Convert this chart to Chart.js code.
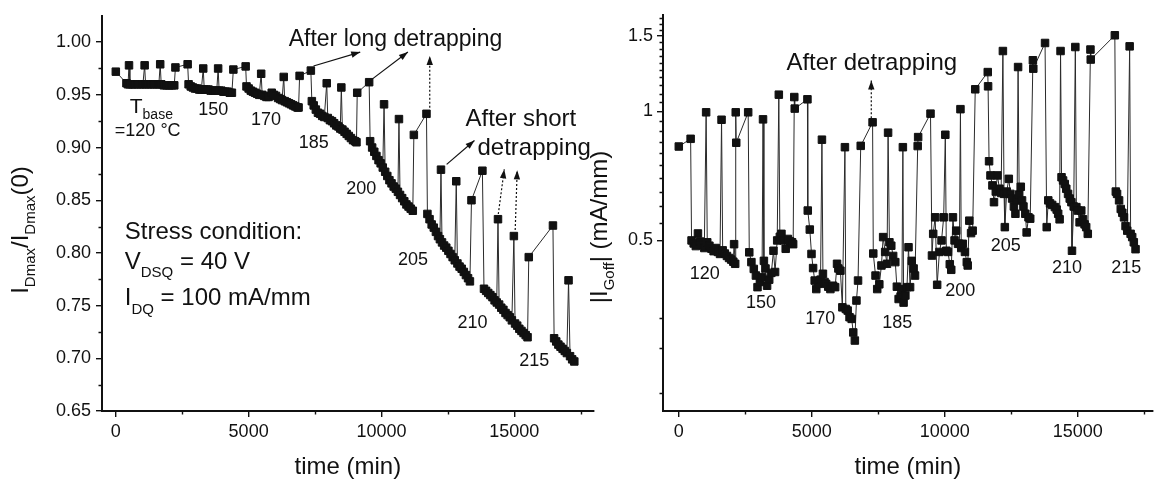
<!DOCTYPE html>
<html>
<head>
<meta charset="utf-8">
<script src="https://cdn.jsdelivr.net/npm/chart.js@4.4.1/dist/chart.umd.min.js"></script>
<style>
  html, body { margin: 0; padding: 0; background: #fff; }
  #wrap { position: relative; width: 1159px; height: 485px; overflow: hidden; }
  #left { position: absolute; left: 0; top: 0; }
  #right { position: absolute; left: 560px; top: 0; }
</style>
</head>
<body>
<div id="wrap">
  <canvas id="left" width="600" height="485"></canvas>
  <canvas id="right" width="599" height="485"></canvas>
</div>
<script>
// time axis ticks shared by both panels (min)
const timeTicks = [0, 2500, 5000, 7500, 10000, 12500, 15000, 17500];
const leftYTicks = [0.65, 0.675, 0.7, 0.725, 0.75, 0.775, 0.8, 0.825, 0.85, 0.875, 0.9, 0.925, 0.95, 0.975, 1.0];
const rightYTicks = [0.22, 0.28, 0.33, 0.5, 0.55, 0.6, 0.65, 0.7, 0.75, 0.8, 0.85, 0.9, 0.95, 1, 1.05, 1.1,
  1.15, 1.2, 1.25, 1.3, 1.35, 1.4, 1.45, 1.5, 1.55, 1.6, 1.65];
const rightYLabels = { 0.5: '0.5', 1: '1', 1.5: '1.5' };

// left panel: I_Dmax / I_Dmax(0), one array per base temperature, [time, value]
const idmax120 = [[0,0.972],[400,0.961],[460,0.960],[497,0.978],[530,0.960],[620,0.960],[720,0.960],[820,0.960],
  [920,0.960],[1020,0.960],[1085,0.978],[1120,0.960],[1220,0.960],[1320,0.960],[1420,0.960],[1520,0.960],
  [1620,0.960],[1671,0.979],[1710,0.960],[1810,0.959],[1910,0.959],[2010,0.959],[2110,0.959],[2200,0.959],[2244,0.976]];
const idmax150 = [[2704,0.979],[2740,0.960],[2820,0.958],[2900,0.957],[2980,0.956],[3060,0.956],[3140,0.955],
  [3220,0.955],[3291,0.975],[3330,0.955],[3410,0.955],[3490,0.955],[3570,0.954],[3650,0.954],[3730,0.954],
  [3800,0.954],[3852,0.975],[3890,0.954],[3970,0.954],[4050,0.953],[4130,0.953],[4210,0.953],[4290,0.952],
  [4370,0.952],[4425,0.974]];
const idmax170 = [[4888,0.977],[4920,0.958],[5000,0.956],[5080,0.954],[5160,0.953],[5240,0.952],[5320,0.951],
  [5400,0.950],[5472,0.970],[5510,0.950],[5590,0.949],[5670,0.948],[5750,0.948],[5870,0.952],[5950,0.950],
  [6030,0.949],[6110,0.947],[6190,0.946],[6260,0.945],[6321,0.967],[6360,0.944],[6440,0.943],[6520,0.942],
  [6600,0.941],[6680,0.940],[6760,0.939],[6840,0.938],[6880,0.938],[6919,0.968]];
const idmax185 = [[7342,0.973],[7380,0.944],[7450,0.940],[7530,0.936],[7610,0.933],[7690,0.932],[7770,0.930],
  [7850,0.929],[7940,0.961],[7980,0.928],[8060,0.926],[8140,0.925],[8220,0.923],[8300,0.921],[8380,0.920],
  [8450,0.918],[8490,0.957],[8530,0.917],[8610,0.915],[8690,0.913],[8770,0.911],[8850,0.909],[8930,0.907],
  [9010,0.906],[9060,0.905],[9088,0.952]];
const idmax200 = [[9537,0.962],[9574,0.906],[9650,0.900],[9730,0.896],[9810,0.892],[9890,0.888],[9970,0.885],
  [10050,0.881],[10098,0.941],[10140,0.877],[10220,0.873],[10300,0.869],[10380,0.866],[10460,0.863],[10540,0.861],
  [10620,0.858],[10659,0.927],[10700,0.855],[10780,0.852],[10860,0.849],[10940,0.846],[11020,0.844],[11100,0.842],
  [11180,0.840],[11220,0.912]];
const idmax205 = [[11695,0.932],[11730,0.837],[11810,0.832],[11890,0.827],[11970,0.824],[12050,0.820],[12130,0.816],
  [12200,0.813],[12241,0.879],[12280,0.810],[12360,0.807],[12440,0.805],[12520,0.802],[12600,0.799],[12680,0.796],
  [12760,0.793],[12816,0.868],[12860,0.790],[12940,0.787],[13020,0.785],[13100,0.782],[13180,0.779],[13260,0.776],
  [13330,0.773],[13389,0.850]];
const idmax210 = [[13800,0.878],[13860,0.766],[13940,0.764],[14020,0.762],[14100,0.760],[14180,0.758],[14260,0.755],
  [14340,0.753],[14387,0.832],[14430,0.751],[14510,0.748],[14590,0.746],[14670,0.743],[14750,0.741],[14830,0.739],
  [14910,0.736],[14985,0.816],[15030,0.733],[15110,0.731],[15190,0.728],[15270,0.726],[15350,0.724],[15430,0.722],
  [15500,0.720],[15546,0.796]];
const idmax215 = [[16456,0.826],[16500,0.719],[16580,0.716],[16660,0.713],[16740,0.711],[16820,0.709],[16900,0.707],
  [16980,0.705],[17043,0.774],[17100,0.702],[17180,0.699],[17260,0.697]];

// right panel: |I_Goff| (mA/mm), [time, value]
const goff120 = [[0,0.828],[445,0.863],[480,0.500],[560,0.492],[640,0.485],[720,0.519],[800,0.497],[880,0.488],
  [960,0.480],[1028,0.995],[1070,0.495],[1150,0.486],[1230,0.478],[1310,0.472],[1390,0.480],[1470,0.470],
  [1550,0.465],[1608,0.956],[1650,0.474],[1730,0.466],[1810,0.460],[1890,0.455],[1970,0.451],[2050,0.446],
  [2079,0.490],[2120,0.441],[2141,0.995],[2160,0.845]];
const goff150 = [[2609,0.995],[2650,0.469],[2730,0.445],[2820,0.429],[2900,0.414],[2960,0.389],[3050,0.400],
  [3130,0.410],[3167,0.958],[3200,0.448],[3260,0.430],[3320,0.392],[3400,0.405],[3480,0.420],[3560,0.473],
  [3620,0.422],[3700,0.500],[3761,1.094],[3800,0.510],[3860,0.518],[3940,0.500],[4020,0.478],[4100,0.504],
  [4180,0.498],[4260,0.495],[4300,0.490],[4343,1.080],[4360,1.015]];
const goff170 = [[4837,1.067],[4850,0.587],[4926,0.530],[4990,0.465],[5050,0.431],[5110,0.403],[5170,0.385],
  [5250,0.396],[5330,0.405],[5382,0.859],[5420,0.418],[5480,0.400],[5540,0.396],[5620,0.390],[5700,0.385],
  [5800,0.392],[5880,0.389],[5950,0.441],[6000,0.430],[6077,0.425],[6150,0.349],[6247,0.825],[6280,0.346],
  [6350,0.343],[6420,0.331],[6500,0.328],[6560,0.305],[6620,0.292],[6680,0.362],[6740,0.403],[6841,0.831]];
const goff185 = [[7287,0.943],[7313,0.466],[7398,0.414],[7461,0.385],[7540,0.395],[7620,0.437],[7684,0.509],
  [7760,0.470],[7830,0.441],[7870,0.892],[7920,0.495],[7990,0.486],[8060,0.460],[8141,0.445],[8200,0.390],
  [8267,0.365],[8340,0.370],[8390,0.385],[8426,0.825],[8453,0.358],[8520,0.372],[8580,0.389],[8638,0.482],
  [8697,0.389],[8760,0.448],[8830,0.430],[8883,0.414],[8983,0.830],[9000,0.871]];
const goff200 = [[9465,0.988],[9520,0.461],[9566,0.518],[9640,0.566],[9715,0.394],[9800,0.470],[9880,0.500],
  [9960,0.566],[10022,0.882],[10060,0.473],[10123,0.470],[10190,0.440],[10245,0.427],[10308,0.566],[10370,0.500],
  [10431,0.527],[10500,0.491],[10553,0.491],[10591,1.012],[10620,0.480],[10679,0.491],[10760,0.470],[10830,0.445],
  [10864,0.437],[10924,0.556],[10990,0.520],[11050,0.527],[11147,1.126]];
const goff205 = [[11618,1.235],[11630,1.144],[11667,0.765],[11720,0.709],[11793,0.672],[11852,0.614],[11920,0.650],
  [11979,0.709],[12060,0.660],[12120,0.645],[12187,1.383],[12230,0.642],[12260,0.537],[12330,0.650],[12409,0.696],
  [12470,0.642],[12535,0.626],[12600,0.600],[12658,0.577],[12721,0.620],[12758,1.269],[12800,0.640],[12860,0.667],
  [12907,0.620],[12960,0.600],[13030,0.577],[13080,0.522],[13150,0.566],[13215,0.562],[13315,1.316],[13330,1.258]];
const goff210 = [[13772,1.444],[13835,0.537],[13894,0.620],[13960,0.610],[14040,0.605],[14143,0.598],[14210,0.590],
  [14266,0.577],[14320,0.560],[14355,1.383],[14392,0.702],[14450,0.690],[14514,0.677],[14570,0.660],[14637,0.642],
  [14700,0.626],[14763,0.614],[14785,0.473],[14850,0.600],[14911,1.413],[14950,0.598],[15008,0.587],[15071,0.551],
  [15134,0.587],[15200,0.560],[15260,0.545],[15319,0.537],[15379,0.518],[15479,1.394],[15490,1.321]];
const goff215 = [[16396,1.505],[16433,0.650],[16480,0.642],[16556,0.620],[16619,0.592],[16678,0.580],[16741,0.566],
  [16800,0.540],[16863,0.527],[16953,1.418],[16990,0.518],[17049,0.509],[17110,0.495],[17175,0.477]];

const FONT = '"Liberation Sans", Arial, Helvetica, sans-serif';
const INK = '#111';
Chart.defaults.font.family = FONT;
Chart.defaults.font.size = 18;
Chart.defaults.color = INK;

const toPoints = steps => steps.flat().map(([x, y]) => ({ x, y }));

function drawParts(ctx, x, y, parts, align) {
  let total = 0;
  for (const [t, size] of parts) { ctx.font = size + 'px ' + FONT; total += ctx.measureText(t).width; }
  let cx = align === 'center' ? x - total / 2 : x;
  for (const [t, size, dy] of parts) {
    ctx.font = size + 'px ' + FONT;
    ctx.fillText(t, cx, y + (dy || 0));
    cx += ctx.measureText(t).width;
  }
}

function drawArrow(ctx, x1, y1, x2, y2, dotted) {
  ctx.save();
  ctx.lineWidth = 1.2;
  if (dotted) ctx.setLineDash([2, 2]);
  ctx.beginPath(); ctx.moveTo(x1, y1); ctx.lineTo(x2, y2); ctx.stroke();
  ctx.setLineDash([]);
  const a = Math.atan2(y2 - y1, x2 - x1), L = 9, W = 3.2;
  ctx.beginPath();
  ctx.moveTo(x2, y2);
  ctx.lineTo(x2 - L * Math.cos(a) + W * Math.sin(a), y2 - L * Math.sin(a) - W * Math.cos(a));
  ctx.lineTo(x2 - L * Math.cos(a) - W * Math.sin(a), y2 - L * Math.sin(a) + W * Math.cos(a));
  ctx.closePath(); ctx.fill();
  ctx.restore();
}

// short outward marks for the unlabelled (minor) ticks
function minorTicks(ctx, chart) {
  const { x, y } = chart.scales;
  ctx.lineWidth = 1.4;
  ctx.beginPath();
  for (const t of x.ticks) {
    if (t.label) continue;
    const px = Math.round(x.getPixelForValue(t.value)) + 0.5;
    ctx.moveTo(px, x.top); ctx.lineTo(px, x.top + 3.5);
  }
  for (const t of y.ticks) {
    if (t.label) continue;
    const py = Math.round(y.getPixelForValue(t.value)) + 0.5;
    ctx.moveTo(y.right, py); ctx.lineTo(y.right - 3.5, py);
  }
  ctx.stroke();
}

const notes = {
  id: 'notes',
  afterDraw(chart, args, o) {
    const { ctx, chartArea, scales: { x, y } } = chart;
    ctx.save();
    ctx.fillStyle = INK; ctx.strokeStyle = INK; ctx.textBaseline = 'alphabetic';
    minorTicks(ctx, chart);
    for (const a of o.arrows) {
      drawArrow(ctx, x.getPixelForValue(a[0]), y.getPixelForValue(a[1]),
        x.getPixelForValue(a[2]), y.getPixelForValue(a[3]), a[4]);
    }
    for (const t of o.texts) drawParts(ctx, x.getPixelForValue(t.x), y.getPixelForValue(t.y), t.parts, 'left');
    drawParts(ctx, (chartArea.left + chartArea.right) / 2, o.xTitleY, [['time (min)', 24, 0]], 'center');
    ctx.translate(o.yTitleX, o.yTitleY);
    ctx.rotate(-Math.PI / 2);
    drawParts(ctx, 0, 0, o.yTitle, 'center');
    ctx.restore();
  }
};

function scaleBase(tickValues, labelFn, pad) {
  return {
    afterBuildTicks: s => { s.ticks = tickValues.map(v => ({ value: v })); },
    ticks: { callback: labelFn, padding: pad, autoSkip: false, maxRotation: 0, color: INK, font: { size: 18 } },
    grid: {
      display: true, drawOnChartArea: false, drawTicks: true, tickLength: 6, lineWidth: 1.4,
      tickColor: c => (c.tick && c.tick.label ? INK : 'rgba(0,0,0,0)')
    },
    border: { display: true, color: INK, width: 2 }
  };
}

const timeLabel = v => (v % 5000 === 0 ? String(v) : '');

function dataset(steps) {
  return {
    data: toPoints(steps), showLine: true,
    borderColor: '#2a2a2a', borderWidth: 1,
    pointStyle: 'rect', pointRadius: 5.3, pointBorderWidth: 1,
    pointBackgroundColor: INK, pointBorderColor: INK
  };
}

new Chart(document.getElementById('left'), {
  type: 'scatter',
  data: { datasets: [dataset([idmax120, idmax150, idmax170, idmax185, idmax200, idmax205, idmax210, idmax215])] },
  options: {
    responsive: false, animation: false, events: [],
    layout: { padding: { left: 0, top: 12, right: 3, bottom: 0 } },
    scales: {
      x: Object.assign(scaleBase(timeTicks, timeLabel, 4), {
        type: 'linear', min: -520, max: 17990, afterFit: s => { s.height = 74; }
      }),
      y: Object.assign(scaleBase(leftYTicks,
        v => (Math.abs(v * 20 - Math.round(v * 20)) < 1e-6 ? v.toFixed(2) : ''), 5), {
        type: 'linear', min: 0.65, max: 1.025, afterFit: s => { s.width = 102; }
      })
    },
    plugins: {
      legend: { display: false }, tooltip: { enabled: false },
      notes: {
        xTitleY: 474, yTitleX: 28, yTitleY: 230,
        yTitle: [['I', 24, 0], ['Dmax', 15, 7], ['/', 24, 0], ['I', 24, 0], ['Dmax', 15, 7], ['(0)', 24, 0]],
        arrows: [
          [7443, 0.9774, 9200, 0.9906, false],
          [9612, 0.9642, 10996, 0.9906, false],
          [11818, 0.9378, 11818, 0.9868, true],
          [12454, 0.884, 13501, 0.9066, false],
          [14399, 0.8369, 14623, 0.8793, true],
          [15035, 0.8218, 15110, 0.8784, true]
        ],
        texts: [
          { x: 6508, y: 0.9960, parts: [['After long detrapping', 23]] },
          { x: 13165, y: 0.9202, parts: [['After short', 24]] },
          { x: 13614, y: 0.8929, parts: [['detrapping', 24]] },
          { x: 524, y: 0.933, parts: [['T', 21], ['base', 14, 6]] },
          { x: -37, y: 0.9114, parts: [['=120 \u00B0C', 18]] },
          { x: 3104, y: 0.9312, parts: [['150', 18]] },
          { x: 5086, y: 0.9217, parts: [['170', 18]] },
          { x: 6882, y: 0.900, parts: [['185', 18]] },
          { x: 8677, y: 0.8557, parts: [['200', 18]] },
          { x: 10622, y: 0.7888, parts: [['205', 18]] },
          { x: 12866, y: 0.7284, parts: [['210', 18]] },
          { x: 15184, y: 0.6926, parts: [['215', 18]] },
          { x: 337, y: 0.8133, parts: [['Stress condition:', 24]] },
          { x: 337, y: 0.785, parts: [['V', 24], ['DSQ', 15, 8], [' = 40 V', 24]] },
          { x: 337, y: 0.751, parts: [['I', 24], ['DQ', 15, 9], [' = 100 mA/mm', 24]] }
        ]
      }
    }
  },
  plugins: [notes]
});

new Chart(document.getElementById('right'), {
  type: 'scatter',
  data: { datasets: [dataset([goff120, goff150, goff170, goff185, goff200, goff205, goff210, goff215])] },
  options: {
    responsive: false, animation: false, events: [],
    layout: { padding: { left: 0, top: 14, right: 0, bottom: 0 } },
    scales: {
      x: Object.assign(scaleBase(timeTicks, timeLabel, 4), {
        type: 'linear', min: -594, max: 17820, afterFit: s => { s.height = 74; }
      }),
      y: Object.assign(scaleBase(rightYTicks, v => rightYLabels[v] || '', 4), {
        type: 'logarithmic', min: 0.2, max: 1.68, afterFit: s => { s.width = 103; }
      })
    },
    plugins: {
      legend: { display: false }, tooltip: { enabled: false },
      notes: {
        xTitleY: 474, yTitleX: 47, yTitleY: 227,
        yTitle: [['|I', 24, 0], ['Goff', 15, 7], ['| (mA/mm)', 24, 0]],
        arrows: [[7238, 0.943, 7238, 1.181, true]],
        texts: [
          { x: 4046, y: 1.247, parts: [['After detrapping', 24]] },
          { x: 408, y: 0.407, parts: [['120', 18]] },
          { x: 2524, y: 0.348, parts: [['150', 18]] },
          { x: 4751, y: 0.3197, parts: [['170', 18]] },
          { x: 7647, y: 0.3129, parts: [['185', 18]] },
          { x: 10022, y: 0.3716, parts: [['200', 18]] },
          { x: 11730, y: 0.4735, parts: [['205', 18]] },
          { x: 14031, y: 0.4205, parts: [['210', 18]] },
          { x: 16258, y: 0.4205, parts: [['215', 18]] }
        ]
      }
    }
  },
  plugins: [notes]
});
</script>
</body>
</html>
